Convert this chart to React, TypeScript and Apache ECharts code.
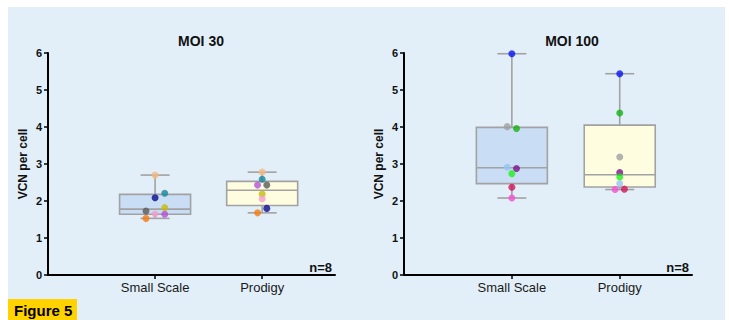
import React, { useEffect, useRef } from "react";
import * as echarts from "echarts";

// ---- data ----
const categories = ["Small Scale", "Prodigy"];
const categoryPositions = [1, 2];
const yTicks = [0, 1, 2, 3, 4, 5, 6];
const titles = ["MOI 30", "MOI 100"];
const nLabel = "n=8";

// box summaries: [min, Q1, median, Q3, max]
const moi30Box = [
  [1.53, 1.64, 1.78, 2.18, 2.7],
  [1.68, 1.88, 2.29, 2.53, 2.78],
];
const moi100Box = [
  [2.08, 2.47, 2.9, 3.99, 5.98],
  [2.31, 2.38, 2.71, 4.05, 5.44],
];

// individual points
const moi30SmallValues = [2.7, 2.21, 2.09, 1.82, 1.73, 1.65, 1.64, 1.53];
const moi30SmallJitter = [0, 0.09, 0, 0.09, -0.085, 0, 0.09, -0.085];
const moi30SmallColors = ["#f5b982", "#16879a", "#0b0b8c", "#c4bb0a", "#5a5a5a", "#f59ccb", "#b550d8", "#f57a10"];

const moi30ProdigyValues = [2.78, 2.59, 2.43, 2.43, 2.19, 2.06, 1.8, 1.68];
const moi30ProdigyJitter = [0, 0, -0.043, 0.043, 0, 0, 0.043, -0.043];
const moi30ProdigyColors = ["#f5b982", "#16879a", "#b550d8", "#5a5a5a", "#c4bb0a", "#f59ccb", "#0b0b8c", "#f57a10"];

const moi100SmallValues = [5.98, 4.01, 3.96, 2.91, 2.88, 2.74, 2.37, 2.08];
const moi100SmallJitter = [0, -0.043, 0.043, -0.043, 0.043, 0, 0, 0];
const moi100SmallColors = ["#0a14f5", "#a0a0a0", "#14b414", "#96c3f5", "#7a148c", "#1ef01e", "#d4145a", "#f550d2"];

const moi100ProdigyValues = [5.44, 4.38, 3.19, 2.77, 2.65, 2.47, 2.31, 2.32];
const moi100ProdigyJitter = [0, 0, 0, 0, 0, 0, -0.043, 0.043];
const moi100ProdigyColors = ["#0a14f5", "#14b414", "#a0a0a0", "#7a148c", "#1ef01e", "#96c3f5", "#f550d2", "#d4145a"];

const boxFills = ["#c9ddf5", "#fefde0"];

const FONT = "Liberation Sans, Arial, Helvetica, sans-serif";

function pointsData(values: number[], jitter: number[], colors: string[], base: number) {
  return values.map((v, i) => ({
    value: [base + jitter[i], v],
    itemStyle: { color: colors[i] },
  }));
}

function boxSeries(idx: number, boxes: number[][]) {
  return {
    type: "custom",
    xAxisIndex: idx,
    yAxisIndex: idx,
    clip: false,
    z: 2,
    encode: { x: 0, y: [1, 2, 3, 4, 5] },
    data: boxes.map((b, i) => [categoryPositions[i], ...b]),
    renderItem: (params: any, api: any) => {
      const x = api.value(0);
      const lo = api.coord([x, api.value(1)]);
      const q1 = api.coord([x, api.value(2)]);
      const med = api.coord([x, api.value(3)]);
      const q3 = api.coord([x, api.value(4)]);
      const hi = api.coord([x, api.value(5)]);
      const hw = 35.5;
      const cw = 14.5;
      const stroke = "#a2a2a2";
      const ls = { stroke, lineWidth: 1.6, fill: "none" };
      return {
        type: "group",
        children: [
          { type: "line", shape: { x1: hi[0], y1: hi[1], x2: q3[0], y2: q3[1] }, style: ls },
          { type: "line", shape: { x1: lo[0], y1: lo[1], x2: q1[0], y2: q1[1] }, style: ls },
          { type: "line", shape: { x1: hi[0] - cw, y1: hi[1], x2: hi[0] + cw, y2: hi[1] }, style: ls },
          { type: "line", shape: { x1: lo[0] - cw, y1: lo[1], x2: lo[0] + cw, y2: lo[1] }, style: ls },
          {
            type: "rect",
            shape: { x: q3[0] - hw, y: q3[1], width: hw * 2, height: q1[1] - q3[1] },
            style: { fill: boxFills[params.dataIndex], stroke, lineWidth: 1.6 },
          },
          { type: "line", shape: { x1: med[0] - hw, y1: med[1], x2: med[0] + hw, y2: med[1] }, style: ls },
        ],
      };
    },
  };
}

function scatterSeries(idx: number, data: any[]) {
  return {
    type: "scatter",
    xAxisIndex: idx,
    yAxisIndex: idx,
    symbol: "circle",
    symbolSize: 7,
    z: 5,
    clip: false,
    data,
  };
}

function xAxis(idx: number, max: number) {
  return {
    type: "value",
    gridIndex: idx,
    min: 0,
    max,
    splitLine: { show: false },
    axisLine: { show: true, lineStyle: { color: "#000", width: 2 } },
    axisTick: { show: true, length: 4, customValues: categoryPositions, lineStyle: { color: "#000", width: 1.5 } },
    axisLabel: {
      customValues: categoryPositions,
      formatter: (v: number) => {
        const i = categoryPositions.indexOf(Math.round(v));
        return i >= 0 ? categories[i] : "";
      },
      color: "#1a1a1a",
      fontSize: 13,
      fontFamily: FONT,
      margin: 6,
    },
  };
}

function yAxis(idx: number) {
  return {
    type: "value",
    gridIndex: idx,
    min: yTicks[0],
    max: yTicks[yTicks.length - 1],
    interval: 1,
    name: "VCN per cell",
    nameLocation: "middle",
    nameRotate: 90,
    nameGap: 19,
    nameTextStyle: { fontSize: 12, fontWeight: "bold", fontFamily: FONT, color: "#111" },
    splitLine: { show: false },
    axisLine: { show: true, lineStyle: { color: "#000", width: 2 } },
    axisTick: { show: true, length: 4, lineStyle: { color: "#000", width: 1.5 } },
    axisLabel: { color: "#111", fontSize: 11, fontWeight: "bold", fontFamily: FONT, margin: 6 },
  };
}

export default function App() {
  const ref = useRef<HTMLDivElement>(null);
  useEffect(() => {
    if (!ref.current) return;
    const chart = echarts.init(ref.current, undefined, { renderer: "svg" });
    chart.setOption({
      animation: false,
      backgroundColor: "#ffffff",
      textStyle: { fontFamily: FONT },
      title: [
        {
          text: titles[0],
          left: 196,
          top: 29,
          textAlign: "center",
          textStyle: { fontSize: 14, fontWeight: "bold", color: "#111", fontFamily: FONT },
        },
        {
          text: titles[1],
          left: 567,
          top: 29,
          textAlign: "center",
          textStyle: { fontSize: 14, fontWeight: "bold", color: "#111", fontFamily: FONT },
        },
      ],
      grid: [
        { left: 48, top: 53, width: 287, height: 222 },
        { left: 404, top: 53, width: 288, height: 222 },
      ],
      xAxis: [xAxis(0, 2.68), xAxis(1, 2.67)],
      yAxis: [yAxis(0), yAxis(1)],
      graphic: [
        { type: "rect", z: -10, shape: { x: 8, y: 7, width: 717, height: 313 }, style: { fill: "#e2eff9" } },
        { type: "rect", z: -5, shape: { x: 8, y: 299, width: 69, height: 21 }, style: { fill: "#ffd200" } },
        {
          type: "text",
          z: 10,
          x: 14,
          y: 310,
          style: { text: "Figure 5", fontSize: 15, fontWeight: "bold", fill: "#000", fontFamily: FONT, verticalAlign: "middle" },
        },
        {
          type: "text",
          z: 10,
          x: 332,
          y: 267.5,
          style: { text: nLabel, fontSize: 13, fontWeight: "bold", fill: "#111", fontFamily: FONT, align: "right", verticalAlign: "middle" },
        },
        {
          type: "text",
          z: 10,
          x: 689,
          y: 267.5,
          style: { text: nLabel, fontSize: 13, fontWeight: "bold", fill: "#111", fontFamily: FONT, align: "right", verticalAlign: "middle" },
        },
      ],
      series: [
        boxSeries(0, moi30Box),
        boxSeries(1, moi100Box),
        scatterSeries(0, [
          ...pointsData(moi30SmallValues, moi30SmallJitter, moi30SmallColors, categoryPositions[0]),
          ...pointsData(moi30ProdigyValues, moi30ProdigyJitter, moi30ProdigyColors, categoryPositions[1]),
        ]),
        scatterSeries(1, [
          ...pointsData(moi100SmallValues, moi100SmallJitter, moi100SmallColors, categoryPositions[0]),
          ...pointsData(moi100ProdigyValues, moi100ProdigyJitter, moi100ProdigyColors, categoryPositions[1]),
        ]),
      ],
    });
    return () => chart.dispose();
  }, []);
  return (
    <div style={{ position: "absolute", left: 0, top: 0, width: 729, height: 320 }}>
      <div ref={ref} style={{ width: 729, height: 320 }} />
    </div>
  );
}
